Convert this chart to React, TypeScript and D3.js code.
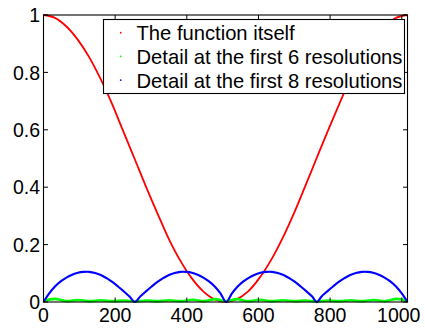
import React from "react";
import * as d3 from "d3";

const xTicks = [0, 200, 400, 600, 800, 1000];
const yTicks = [0, 0.2, 0.4, 0.6, 0.8, 1];
const yTickLabels = ["0", "0.2", "0.4", "0.6", "0.8", "1"];
const legendLabels = [
  "The function itself",
  "Detail at the first 6 resolutions",
  "Detail at the first 8 resolutions",
];

const redX = [0, 32, 64, 95, 127, 159, 191, 222, 254, 286, 318, 349, 381, 413, 445, 476, 508,
  540, 572, 603, 635, 667, 699, 730, 762, 794, 826, 857, 889, 921, 953, 984, 1016];
const redY = [1, 0.99, 0.96, 0.915, 0.854, 0.778, 0.691, 0.597, 0.5, 0.402, 0.309, 0.222, 0.146, 0.084, 0.038, 0.01, 0,
  0.01, 0.038, 0.084, 0.146, 0.222, 0.309, 0.402, 0.5, 0.597, 0.691, 0.778, 0.854, 0.915, 0.96, 0.99, 1];

const greenX = [0, 32, 64, 96, 128, 160, 192, 224, 256, 288, 320, 352, 384, 416, 448, 480, 508,
  540, 572, 604, 636, 668, 700, 732, 762, 794, 826, 858, 890, 922, 954, 986, 1016];
const greenY = [0.003, 0.011, 0.003, 0.007, 0.003, 0.006, 0.003, 0.005, 0.002, 0.005, 0.003, 0.006, 0.003, 0.008, 0.003, 0.01, 0.003,
  0.01, 0.003, 0.008, 0.003, 0.006, 0.003, 0.005, 0.002, 0.005, 0.003, 0.006, 0.003, 0.007, 0.003, 0.011, 0.003];

const blueX = [0, 16, 32, 48, 64, 80, 96, 112, 128, 144, 160, 176, 192, 208, 224, 240, 255,
  270, 286, 302, 318, 334, 350, 366, 382, 398, 414, 430, 446, 462, 478, 494, 510,
  526, 542, 558, 574, 590, 606, 622, 638, 654, 670, 686, 702, 718, 734, 750, 763,
  776, 792, 808, 824, 840, 856, 872, 888, 904, 920, 936, 952, 968, 984, 1000, 1016];
const blueY = [0, 0.03, 0.054, 0.072, 0.085, 0.095, 0.102, 0.105, 0.105, 0.101, 0.094, 0.083, 0.07, 0.054, 0.037, 0.019, 0,
  0.019, 0.037, 0.054, 0.07, 0.083, 0.094, 0.101, 0.105, 0.105, 0.102, 0.095, 0.085, 0.072, 0.054, 0.03, 0,
  0.03, 0.054, 0.072, 0.085, 0.095, 0.102, 0.105, 0.105, 0.101, 0.094, 0.083, 0.07, 0.054, 0.037, 0.019, 0,
  0.019, 0.037, 0.054, 0.07, 0.083, 0.094, 0.101, 0.105, 0.105, 0.102, 0.095, 0.085, 0.072, 0.054, 0.03, 0];

const W = 425;
const H = 331;
const left = 43.5;
const right = 407.5;
const top = 15;
const bottom = 302;

export default function App() {
  const x = d3.scaleLinear().domain([0, 1016]).range([left, right]);
  const y = d3.scaleLinear().domain([0, 1]).range([bottom, top]);
  const mk = (xs: number[], ys: number[]) =>
    d3
      .line<number>()
      .x((_, i) => x(xs[i]))
      .y((d) => y(d))
      .curve(d3.curveCatmullRom.alpha(0.5))(ys) || "";
  const font = "'Liberation Sans', Arial, Helvetica, sans-serif";
  const series = [
    { xs: redX, ys: redY, color: "#ff0000", w: 1.8 },
    { xs: greenX, ys: greenY, color: "#00ff00", w: 2.6 },
    { xs: blueX, ys: blueY, color: "#0000ff", w: 2.1 },
  ];
  const tl = 4.5;
  return (
    <svg
      width={W}
      height={H}
      style={{ position: "absolute", left: 0, top: 0, background: "#fff" }}
      fontFamily={font}
    >
      <rect x={0} y={0} width={W} height={H} fill="#fff" />
      {series.map((s, i) => (
        <path key={i} d={mk(s.xs, s.ys)} fill="none" stroke={s.color} strokeWidth={s.w} strokeLinejoin="round" />
      ))}
      <rect x={left} y={top} width={right - left} height={bottom - top} fill="none" stroke="#000" strokeWidth={1.1} />
      {xTicks.map((t) => (
        <g key={"x" + t}>
          <line x1={x(t)} x2={x(t)} y1={bottom} y2={bottom - tl} stroke="#000" />
          <line x1={x(t)} x2={x(t)} y1={top} y2={top + tl} stroke="#000" />
          <text x={t === 1000 ? x(t) - 3 : x(t)} y={321.7} fontSize={19.5} textAnchor="middle" fill="#000">
            {t}
          </text>
        </g>
      ))}
      {yTicks.map((t, i) => (
        <g key={"y" + t}>
          <line x1={left} x2={left + tl} y1={y(t)} y2={y(t)} stroke="#000" />
          <line x1={right} x2={right - tl} y1={y(t)} y2={y(t)} stroke="#000" />
          <text x={40} y={y(t) + 7.2} fontSize={19.5} textAnchor="end" fill="#000">
            {yTickLabels[i]}
          </text>
        </g>
      ))}
      <rect x={103.5} y={19.5} width={301} height={74} fill="#fff" stroke="#000" strokeWidth={1.1} />
      {legendLabels.map((l, i) => (
        <g key={l}>
          <circle cx={120.7} cy={32.7 + i * 23.7} r={0.9} fill={series[i].color} />
          <text x={136.5} y={39.5 + i * 24} fontSize={20.2} fill="#000">
            {l}
          </text>
        </g>
      ))}
    </svg>
  );
}
